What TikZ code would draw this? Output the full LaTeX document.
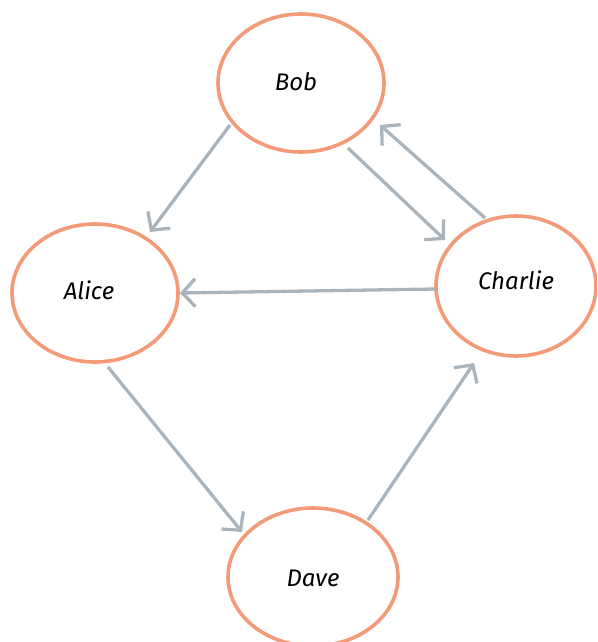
\documentclass[tikz,border=0pt]{standalone}
\usepackage{fontspec}
\setmainfont{Fira Sans}
\usetikzlibrary{shapes.geometric,arrows.meta,calc}
\definecolor{ringorange}{HTML}{F39A78}
\definecolor{linkgray}{HTML}{A9B4BD}
\begin{document}
\begin{tikzpicture}[x=1pt,y=-1pt,
  person/.style={ellipse,draw=ringorange,line width=3.6pt,fill=white,
    minimum width=166pt,minimum height=138pt,inner sep=0pt},
  personlabel/.style={font=\fontsize{24}{24}\selectfont\itshape,text=black},
  link/.style={draw=linkgray,line width=3.3pt,
    -{Straight Barb[length=13pt,width=28pt]}}]
\useasboundingbox (0,0) rectangle (597,642);
\begin{scope}
\clip (0,0) rectangle (597,642);
\node[person] (bob) at (301,83) {};
\node[person] (alice) at (95,293) {};
\node[person,minimum width=160pt,minimum height=140pt] (charlie) at (516,286) {};
\node[person,minimum width=170pt] (dave) at (313,577) {};
\end{scope}
\node[personlabel] (bobtext) at ($(bob.center)+(-5,-1)$) {Bob};
\node[personlabel] (alicetext) at ($(alice.center)+(-6,-3)$) {Alice};
\node[personlabel] (charlietext) at ($(charlie.center)+(0,-6)$) {Charlie};
\node[personlabel] (davetext) at ($(dave.center)+(0,1)$) {Dave};
% links between people
\draw[link] ($(bob.center)+(-71,42)$) -- ($(alice.center)+(55,-61)$);
\draw[link] ($(bob.center)+(47,65)$) -- ($(charlie.center)+(-71,-46)$);
\draw[link] ($(charlie.center)+(-31,-68)$) -- ($(bob.center)+(79,42)$);
\draw[link] ($(charlie.center)+(-81,3)$) -- ($(alice.center)+(85,0)$);
\draw[link] ($(alice.center)+(13,74)$) -- ($(dave.center)+(-71,-45)$);
\draw[link] ($(dave.center)+(55,-57)$) -- ($(charlie.center)+(-42,77)$);
\end{tikzpicture}
\end{document}
